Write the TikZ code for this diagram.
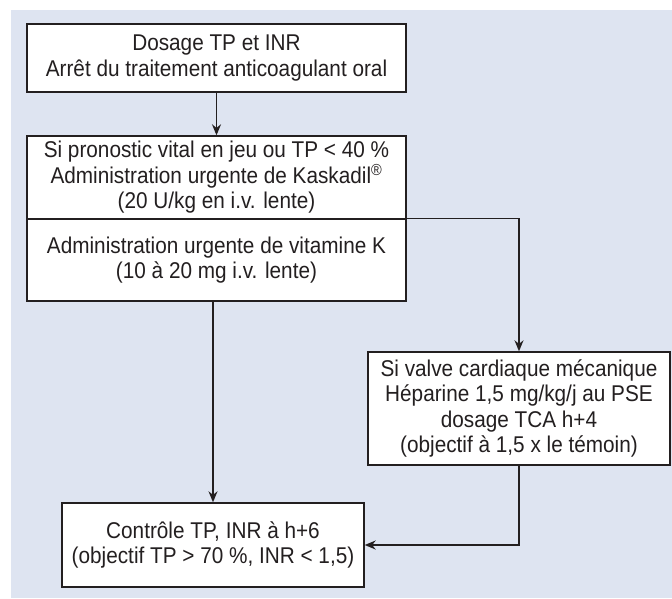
\documentclass[tikz,border=0pt]{standalone}
\usepackage{fontspec}
\setmainfont{Liberation Sans}[FakeStretch=0.91]
\usepackage{tikz}
\usetikzlibrary{arrows.meta,shadows}
\definecolor{bgblue}{RGB}{222,228,241}
\definecolor{ink}{RGB}{35,31,32}

\begin{document}
\begin{tikzpicture}[x=1pt,y=-1pt,
    box/.style={draw=ink, line width=1.4pt, fill=white, align=center, text=ink,
      inner sep=0pt, font=\fontsize{22.8}{25.5}\selectfont,
      drop shadow={shadow xshift=1pt, shadow yshift=-1pt, opacity=0.35, fill=gray}},
    link/.style={draw=ink, line width=1.5pt, -{Stealth[length=11pt,width=9pt]}}]
    \fill[bgblue] (11,10) rectangle (672,598);
    \useasboundingbox (0,0) rectangle (672,598);
    \node[box, minimum width=379pt, minimum height=68pt] (dosage) at (216.5,58)
      {Dosage TP et INR\\Arrêt du traitement anticoagulant oral};
    \node[box, minimum width=379pt, minimum height=83pt] (kask) at (216.5,177.5)
      {Si pronostic vital en jeu ou TP < 40 \%\\Administration urgente de Kaskadil\textsuperscript{®}\\(20 U/kg en i.v. lente)};
    \node[box, minimum width=379pt, minimum height=82pt] (vitk) at (216.5,260)
      {Administration urgente de vitamine K\\(10 à 20 mg i.v. lente)};
    \node[box, minimum width=302pt, minimum height=113pt] (valve) at (519,408.5)
      {Si valve cardiaque mécanique\\Héparine 1,5 mg/kg/j au PSE\\dosage TCA h+4\\(objectif à 1,5 x le témoin)};
    \node[box, minimum width=302pt, minimum height=84pt] (ctrl) at (213,545)
      {Contrôle TP, INR à h+6\\(objectif TP > 70 \%, INR < 1,5)};
    \draw[link] (dosage) -- (kask);
    \draw[link] (vitk.north east) -| (valve.north);
    \draw[link] (vitk.south -| ctrl.north) -- (ctrl.north);
    \draw[link] (valve.south) |- (ctrl.east);
\end{tikzpicture}
\end{document}
